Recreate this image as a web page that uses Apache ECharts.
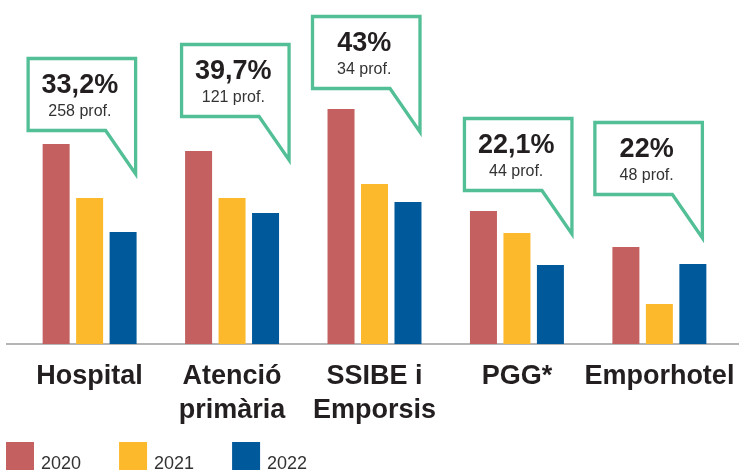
<!DOCTYPE html>
<html>
<head>
<meta charset="utf-8">
<script src="https://cdn.jsdelivr.net/npm/echarts@6/dist/echarts.min.js"></script>
<style>
html,body{margin:0;padding:0;background:#fff;}
#c{width:739px;height:470px;}
</style>
</head>
<body>
<div id="c"></div>
<script>
// ---- data ----
const categories = ['Hospital', 'Atenció\nprimària', 'SSIBE i\nEmporsis', 'PGG*', 'Emporhotel'];
const years = ['2020', '2021', '2022'];
const values2020 = [200, 193, 235, 133, 97];
const values2021 = [146, 146, 160, 111, 40];
const values2022 = [112, 131, 142, 79, 80];
const calloutPct = ['33,2%', '39,7%', '43%', '22,1%', '22%'];
const calloutProf = ['258 prof.', '121 prof.', '34 prof.', '44 prof.', '48 prof.'];
const calloutTip = [166, 180, 208, 106, 102];

// ---- layout / style ----
const colors = ['#C46060', '#FDB92C', '#00599A'];
const green = '#52BF96';
const dark = '#231F20';
const FF = '"Liberation Sans", Arial, sans-serif';
const tipDx = [46, 57, 45.5, 55, 43];

const chart = echarts.init(document.getElementById('c'), null, {renderer: 'canvas'});

function renderCallout(params, api) {
  const i = params.dataIndex;
  const p = api.coord([api.value(0), api.value(1)]);
  const R = p[0] + tipDx[i];
  const tipY = p[1];
  const B = tipY - 47.5;
  const T = B - 72;
  const L = R - 107.5;
  const cx = (L + R) / 2 - 2;
  return {
    type: 'group',
    children: [
      {
        type: 'polygon',
        shape: {points: [[L, T], [R, T], [R, tipY - 4], [R - 30, B], [L, B]]},
        style: {fill: '#fff', stroke: green, lineWidth: 3.3, lineJoin: 'miter'}
      },
      {
        type: 'text',
        x: cx, y: T + 27,
        style: {text: calloutPct[i], fill: dark, align: 'center', verticalAlign: 'middle',
                font: 'bold 27px ' + FF}
      },
      {
        type: 'text',
        x: cx, y: T + 53,
        style: {text: calloutProf[i], fill: '#333', align: 'center', verticalAlign: 'middle',
                font: '16px ' + FF}
      }
    ]
  };
}

const barSeries = [values2020, values2021, values2022].map((vals, k) => ({
  name: years[k],
  type: 'bar',
  data: vals,
  barWidth: 27,
  barGap: '24%',
  itemStyle: {color: colors[k]},
  emphasis: {disabled: true}
}));

chart.setOption({
  animation: false,
  backgroundColor: '#fff',
  grid: {left: 18.4, right: 8.4, top: 4, bottom: 126, containLabel: false},
  xAxis: {
    type: 'category',
    data: categories,
    axisLine: {show: false},
    axisTick: {show: false},
    axisLabel: {
      interval: 0, margin: 16,
      fontFamily: FF, fontWeight: 'bold', fontSize: 27, lineHeight: 34, color: dark
    }
  },
  yAxis: {
    type: 'value', min: 0, max: 340,
    show: false, splitLine: {show: false}
  },
  legend: {
    data: years,
    left: 6, top: 442, padding: 0,
    icon: 'rect', itemWidth: 28, itemHeight: 30, itemGap: 38,
    formatter: '{t|{name}}',
    textStyle: {
      fontFamily: FF, fontSize: 18, color: '#333',
      rich: {t: {fontFamily: FF, fontSize: 18, color: '#333', padding: [14, 0, 0, 2]}}
    },
    selectedMode: false
  },
  series: barSeries.concat([{
    type: 'custom',
    renderItem: renderCallout,
    data: calloutTip.map((v, i) => [i, v]),
    z: 5,
    silent: true
  }])
});

// baseline across the whole width at value 0
const y0 = chart.convertToPixel({yAxisIndex: 0}, 0);
chart.setOption({
  graphic: [{
    type: 'line',
    shape: {x1: 6, y1: y0, x2: 739, y2: y0},
    style: {stroke: '#B5B5B5', lineWidth: 2},
    z: 1
  }]
});
</script>
</body>
</html>
